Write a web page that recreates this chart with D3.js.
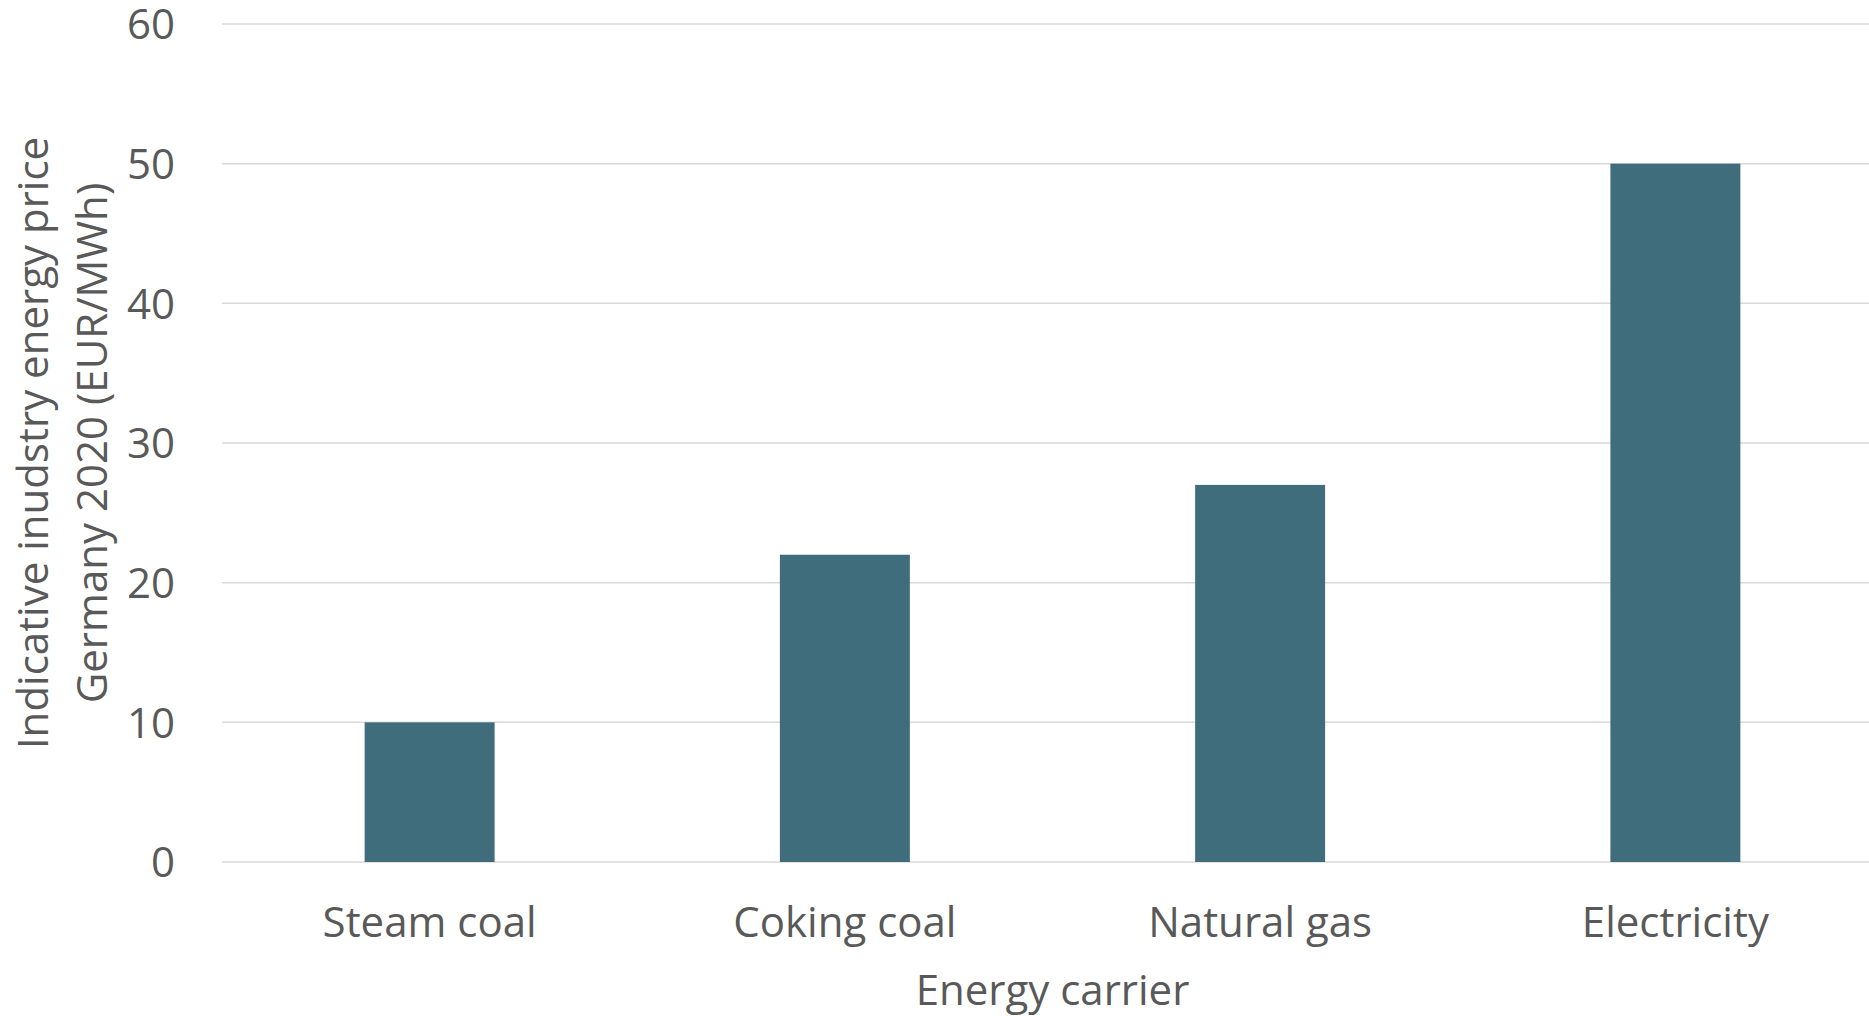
<!DOCTYPE html>
<html>
<head>
<meta charset="utf-8">
<script src="https://cdn.jsdelivr.net/npm/d3@7"></script>
<style>
  html, body { margin: 0; padding: 0; background: #ffffff; }
  svg { display: block; }
  text { font-family: "Open Sans", "Noto Sans", sans-serif; fill: #595959; }
</style>
</head>
<body>
<svg id="chart" width="1869" height="1016"></svg>
<script>
const categories = ["Steam coal", "Coking coal", "Natural gas", "Electricity"];
const values = [10, 22, 27, 50];
const yTicks = [0, 10, 20, 30, 40, 50, 60];
const xTitle = "Energy carrier";
const yTitleLines = ["Indicative inudstry energy price", "Germany 2020 (EUR/MWh)"];

const svg = d3.select("#chart");
const plot = { left: 222, right: 1883, top: 24, bottom: 862 };
const fontSize = 42;

const x = d3.scaleBand()
  .domain(categories)
  .range([plot.left, plot.right])
  .paddingInner(0.687)
  .paddingOuter(0.3435);

const y = d3.scaleLinear()
  .domain([0, 60])
  .range([plot.bottom, plot.top]);

// gridlines
svg.append("g")
  .selectAll("line")
  .data(yTicks)
  .join("line")
  .attr("x1", plot.left)
  .attr("x2", plot.right)
  .attr("y1", d => y(d))
  .attr("y2", d => y(d))
  .attr("stroke", "#d9d9d9")
  .attr("stroke-width", 1.5);

// bars
svg.append("g")
  .selectAll("rect")
  .data(values)
  .join("rect")
  .attr("x", (d, i) => x(categories[i]))
  .attr("width", x.bandwidth())
  .attr("y", d => y(d))
  .attr("height", d => y(0) - y(d))
  .attr("fill", "#406d7c");

// y axis labels
const yAxis = d3.axisLeft(y).tickValues(yTicks).tickSize(0).tickPadding(0);
const yg = svg.append("g")
  .attr("transform", `translate(175,0)`)
  .call(yAxis);
yg.select(".domain").remove();
yg.selectAll("text")
  .attr("font-size", fontSize)
  .attr("font-family", "Open Sans")
  .attr("fill", "#595959")
  .attr("x", 0)
  .attr("dy", "0.35em");

// x axis labels
const xAxis = d3.axisBottom(x).tickSize(0).tickPadding(0);
const xg = svg.append("g")
  .attr("transform", `translate(0,${plot.bottom})`)
  .call(xAxis);
xg.select(".domain").remove();
xg.selectAll("text")
  .attr("font-size", fontSize)
  .attr("font-family", "Open Sans")
  .attr("fill", "#595959")
  .attr("y", 75)
  .attr("dy", 0);

// x title
svg.append("text")
  .attr("x", (plot.left + plot.right) / 2)
  .attr("y", 1005)
  .attr("text-anchor", "middle")
  .attr("font-size", fontSize)
  .text(xTitle);

// y title
const yt = svg.append("text")
  .attr("transform", `translate(0,${(plot.top + plot.bottom) / 2}) rotate(-90)`)
  .attr("text-anchor", "middle")
  .attr("font-size", fontSize);
yt.selectAll("tspan")
  .data(yTitleLines)
  .join("tspan")
  .attr("x", 0)
  .attr("y", (d, i) => 48 + i * 59)
  .text(d => d);
</script>
</body>
</html>
